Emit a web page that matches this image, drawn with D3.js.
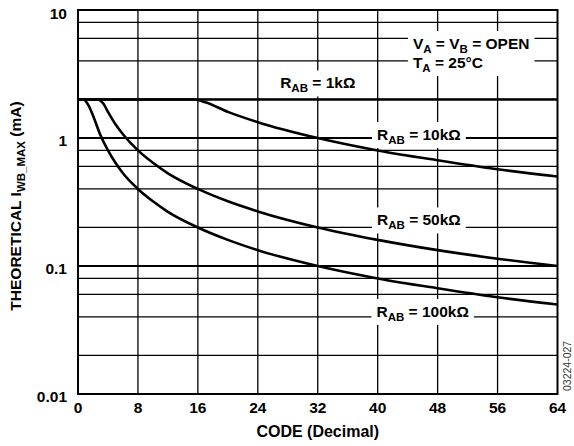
<!DOCTYPE html>
<meta charset="UTF-8">
<style>
	body { margin: 0; background: #fff; }
	text { font-family: "Liberation Sans", Arial, sans-serif; font-weight: bold; fill: #000; }
	.grid { stroke: #000; stroke-width: 1.3px; }
	.grid.major { stroke-width: 2px; }
	.curve { fill: none; stroke: #000; stroke-width: 2.6px; }
</style>
<body>
<script src="https://d3js.org/d3.v7.min.js"></script>
<script>
	// x axis
	const codeTicks = [0, 8, 16, 24, 32, 40, 48, 56, 64];
	// y axis (log)
	const ampTicks = [0.01, 0.1, 1, 10];
	const ampTickLabels = ["0.01", "0.1", "1", "10"];
	const ampGrid = [0.02, 0.04, 0.06, 0.08, 0.1, 0.2, 0.4, 0.6, 0.8, 1, 2, 4, 6, 8];

	// curves (code, mA)
	const codes1k = [0, 64];
	const amps1k = [2, 2];
	const codes10k = [0, 15.5, 17, 20, 24, 32, 40, 48, 56, 64];
	const amps10k = [2, 2, 1.9, 1.6, 1.33, 1.0, 0.8, 0.67, 0.57, 0.5];
	const codes50k = [0, 2.6, 3.4, 4, 5, 6, 8, 10, 12, 16, 20, 24, 32, 40, 48, 56, 64];
	const amps50k = [2, 2, 1.85, 1.6, 1.28, 1.07, 0.8, 0.64, 0.53, 0.4, 0.32, 0.267, 0.2, 0.16, 0.133, 0.114, 0.1];
	const codes100k = [0, 0.7, 1.4, 2, 3, 4, 5, 6, 8, 10, 12, 16, 20, 24, 32, 40, 48, 56, 64];
	const amps100k = [2, 2, 1.8, 1.5, 1.05, 0.8, 0.64, 0.53, 0.4, 0.32, 0.265, 0.2, 0.16, 0.133, 0.1, 0.08, 0.067, 0.057, 0.05];

	const W = 574, H = 446;
	const pLeft = 78, pRight = 557.5, pTop = 10, pBottom = 394;
	const fs = 15.5;

	const x = d3.scaleLinear().domain([0, 64]).range([pLeft, pRight]);
	const y = d3.scaleLog().domain([0.01, 10]).range([pBottom, pTop]);

	const svg = d3.select("body").append("svg")
		.attr("width", W)
		.attr("height", H);

	svg.append("defs").append("clipPath").attr("id", "plot")
		.append("rect")
		.attr("x", pLeft).attr("y", pTop)
		.attr("width", pRight - pLeft).attr("height", pBottom - pTop);

	// gridlines
	const grid = svg.append("g");
	grid.selectAll("line.h").data(ampGrid).enter().append("line")
		.attr("class", d => ampTicks.includes(d) ? "grid major" : "grid")
		.attr("x1", pLeft).attr("x2", pRight)
		.attr("y1", d => y(d)).attr("y2", d => y(d));
	grid.selectAll("line.v").data(codeTicks.slice(1, -1)).enter().append("line")
		.attr("class", "grid")
		.attr("x1", d => x(d)).attr("x2", d => x(d))
		.attr("y1", pTop).attr("y2", pBottom);

	// text with subscripts
	const sub = (sel, parts) => {
		parts.forEach(([t, s], i) => {
			const ts = sel.append("tspan").text(t);
			if (s) ts.attr("font-size", 11.5).attr("dy", 4);
			else if (i > 0 && parts[i - 1][1]) ts.attr("dy", -4);
		});
	};

	const labels = [
		{ code: 32, amp: 2, dy: -11, parts: [["R", 0], ["AB", 1], [" = 1kΩ", 0]] },
		{ code: 45.5, amp: 1, dy: 2, parts: [["R", 0], ["AB", 1], [" = 10kΩ", 0]] },
		{ code: 45.5, amp: 0.2, dy: -2, parts: [["R", 0], ["AB", 1], [" = 50kΩ", 0]] },
		{ code: 46, amp: 0.04, dy: 0, parts: [["R", 0], ["AB", 1], [" = 100kΩ", 0]] },
	];
	const lab = svg.append("g");
	labels.forEach(l => {
		const g = lab.append("g");
		const t = g.append("text")
			.attr("x", x(l.code)).attr("y", y(l.amp) + l.dy)
			.attr("text-anchor", "middle")
			.attr("font-size", fs);
		sub(t, l.parts);
		const b = t.node().getBBox();
		g.insert("rect", "text")
			.attr("x", b.x - 5).attr("y", b.y - 4)
			.attr("width", b.width + 10).attr("height", b.height + 6)
			.attr("fill", "#fff");
	});

	// conditions box
	const cond = lab.append("g");
	const c1 = cond.append("text").attr("x", x(44.7)).attr("y", 49).attr("font-size", fs);
	sub(c1, [["V", 0], ["A", 1], [" = V", 0], ["B", 1], [" = OPEN", 0]]);
	const c2 = cond.append("text").attr("x", x(44.7)).attr("y", 68).attr("font-size", fs);
	sub(c2, [["T", 0], ["A", 1], [" = 25°C", 0]]);
	const cb1 = c1.node().getBBox(), cb2 = c2.node().getBBox();
	cond.insert("rect", "text")
		.attr("x", cb1.x - 5).attr("y", cb1.y - 4)
		.attr("width", cb1.width + 10)
		.attr("height", cb2.y + cb2.height - cb1.y + 6)
		.attr("fill", "#fff");

	// curves
	const line = d3.line()
		.x(d => x(d[0]))
		.y(d => y(d[1]))
		.curve(d3.curveMonotoneX);
	const series = [
		[codes1k, amps1k],
		[codes10k, amps10k],
		[codes50k, amps50k],
		[codes100k, amps100k],
	];
	svg.append("g").attr("clip-path", "url(#plot)")
		.selectAll("path").data(series).enter().append("path")
		.attr("class", "curve")
		.attr("d", s => line(s[0].map((c, i) => [c, s[1][i]])));

	// frame
	svg.append("rect")
		.attr("x", pLeft).attr("y", pTop)
		.attr("width", pRight - pLeft).attr("height", pBottom - pTop)
		.attr("fill", "none").attr("stroke", "#000").attr("stroke-width", 2);

	// tick labels
	svg.append("g").selectAll("text").data(codeTicks).enter().append("text")
		.attr("x", d => x(d)).attr("y", 413)
		.attr("text-anchor", "middle").attr("font-size", fs)
		.text(d => d);
	svg.append("g").selectAll("text").data(ampTicks).enter().append("text")
		.attr("x", 67)
		.attr("y", d => y(d) + (d === 10 ? 9 : 7.5))
		.attr("text-anchor", "end").attr("font-size", fs)
		.text((d, i) => ampTickLabels[i]);

	// axis titles
	svg.append("text")
		.attr("x", x(32)).attr("y", 437)
		.attr("text-anchor", "middle").attr("font-size", 16)
		.text("CODE (Decimal)");
	const yt = svg.append("text")
		.attr("transform", "translate(21,206) rotate(-90)")
		.attr("text-anchor", "middle").attr("font-size", fs);
	sub(yt, [["THEORETICAL I", 0], ["WB_MAX", 1], [" (mA)", 0]]);

	// figure id
	svg.append("text")
		.attr("transform", "translate(571,391) rotate(-90)")
		.attr("font-size", 10.5)
		.style("font-weight", "normal")
		.style("fill", "#333")
		.text("03224-027");
</script>
</body>
